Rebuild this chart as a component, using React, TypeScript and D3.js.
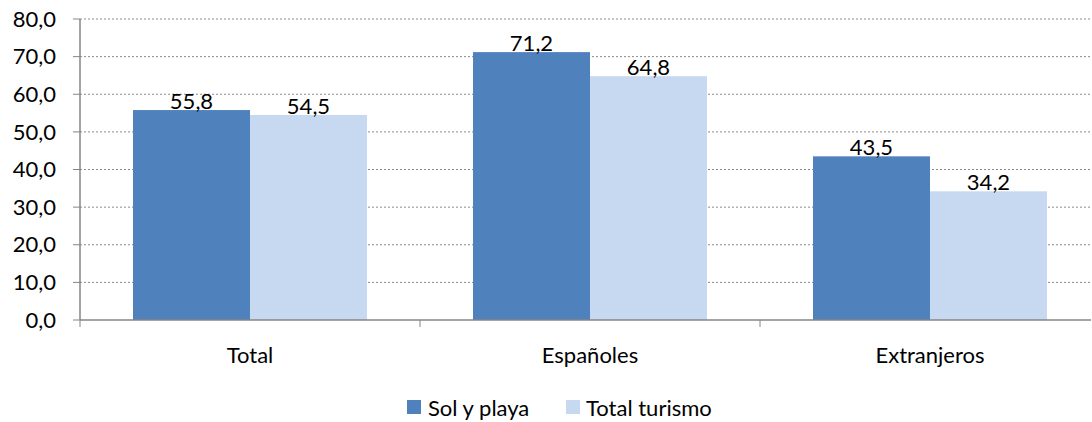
import React from "react";
import * as d3 from "d3";

const categories = ["Total", "Españoles", "Extranjeros"];
const seriesNames = ["Sol y playa", "Total turismo"];
const solYPlaya = [55.8, 71.2, 43.5];
const totalTurismo = [54.5, 64.8, 34.2];
const yTicks = [0, 10, 20, 30, 40, 50, 60, 70, 80];
const colors = ["#4F81BD", "#C6D9F0"];

const W = 1092;
const H = 422;
const FONT = "Lato, 'Open Sans', sans-serif";
const FS = 22;

export default function App() {
  const x0 = d3.scaleBand<string>().domain(categories).range([80, 1100]).paddingInner(0).paddingOuter(0);
  const x1 = d3.scaleBand<string>().domain(seriesNames).range([53, 340 - 53]).padding(0);
  const y = d3.scaleLinear().domain([0, 80]).range([320, 19]);
  const series = [solYPlaya, totalTurismo];
  const fmt = (v: number) => v.toFixed(1).replace(".", ",");

  return (
    <svg width={W} height={H} style={{ position: "absolute", left: 0, top: 0, background: "#fff" }} fontFamily={FONT}>
      {yTicks.map((t) => (
        <g key={t}>
          {t > 0 && (
            <line x1={80} x2={1091} y1={y(t)} y2={y(t)} stroke="#8a8a8a" strokeWidth={1} strokeDasharray="2,2" />
          )}
          <line x1={73} x2={80} y1={y(t)} y2={y(t)} stroke="#868686" />
          <text x={56} y={y(t)} dy="0.35em" textAnchor="end" fontSize={FS} fill="#000">
            {fmt(t)}
          </text>
        </g>
      ))}
      {categories.map((c, ci) =>
        series.map((s, si) => {
          const bx = (x0(c) as number) + (x1(seriesNames[si]) as number);
          const bw = x1.bandwidth();
          return (
            <g key={c + si}>
              <rect x={bx} y={y(s[ci])} width={bw} height={y(0) - y(s[ci])} fill={colors[si]} />
              <text x={bx + bw / 2} y={y(s[ci]) - 1} textAnchor="middle" fontSize={FS} fill="#000">
                {fmt(s[ci])}
              </text>
            </g>
          );
        })
      )}
      <line x1={80} x2={80} y1={19} y2={320} stroke="#868686" strokeWidth={1.5} />
      <line x1={80} x2={1091} y1={320} y2={320} stroke="#868686" strokeWidth={1.5} />
      {[0, 1, 2].map((i) => (
        <line key={i} x1={80 + i * 340} x2={80 + i * 340} y1={320} y2={327} stroke="#868686" />
      ))}
      {categories.map((c) => (
        <text key={c} x={(x0(c) as number) + x0.bandwidth() / 2} y={363} textAnchor="middle" fontSize={FS} fill="#000">
          {c}
        </text>
      ))}
      <rect x={407} y={400} width={14} height={14} fill={colors[0]} />
      <text x={428} y={416} fontSize={FS} fill="#000">{seriesNames[0]}</text>
      <rect x={566} y={400} width={14} height={14} fill={colors[1]} />
      <text x={586} y={416} fontSize={FS} fill="#000">{seriesNames[1]}</text>
    </svg>
  );
}
